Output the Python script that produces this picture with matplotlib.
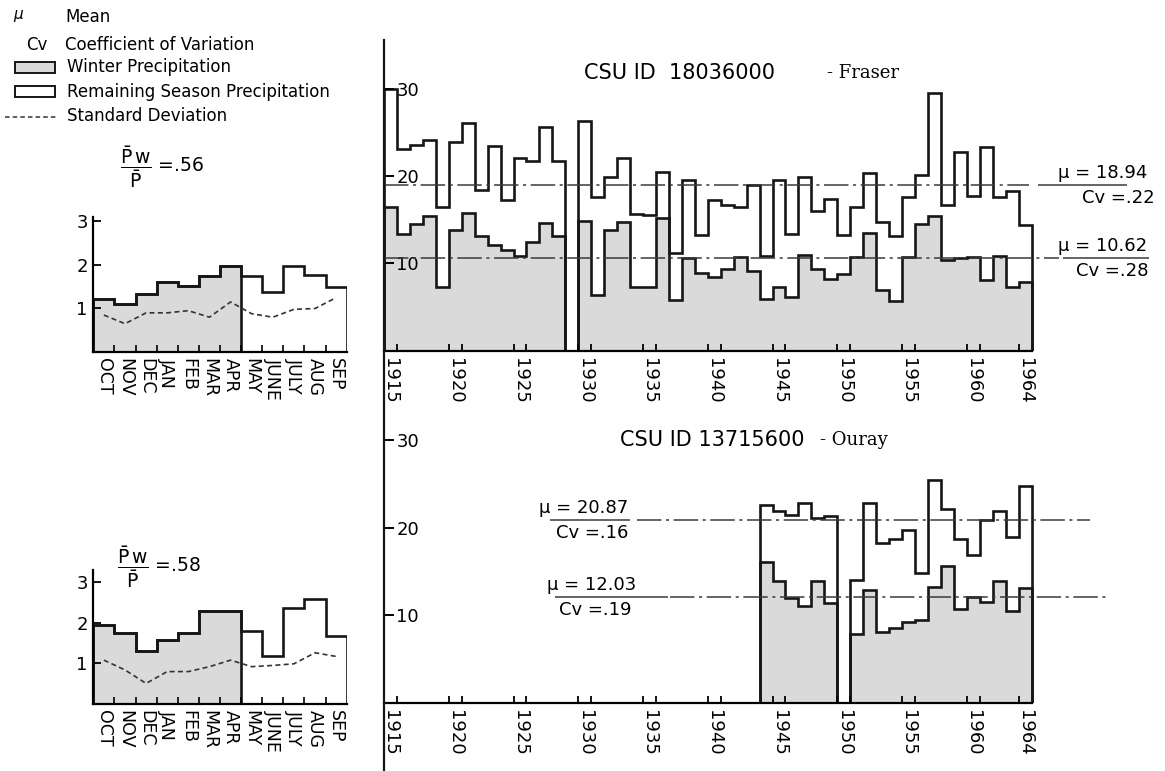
import numpy as np
import matplotlib
matplotlib.use("Agg")
import matplotlib.pyplot as plt
from matplotlib.patches import Rectangle

nan = np.nan

# annual precipitation, inches -- Fraser (CSU ID 18036000), 1929 missing
fraser_years = np.arange(1915, 1965)
fraser_total = [30.0, 23.1, 23.5, 24.1, 16.5, 23.9, 26.1, 18.4, 23.4, 17.3,
                22.1, 21.7, 25.6, 21.7, nan, 26.3, 17.6, 19.9, 22.0, 15.7,
                15.5, 20.5, 11.2, 19.5, 13.2, 17.3, 16.7, 16.4, 19.0, 10.9,
                19.5, 13.4, 19.9, 16.0, 17.4, 13.3, 16.4, 20.3, 14.7, 13.1,
                17.6, 20.1, 29.5, 16.7, 22.7, 17.7, 23.3, 17.6, 18.3, 14.4]
fraser_winter = [16.5, 13.4, 14.5, 15.4, 7.3, 13.8, 15.8, 13.1, 12.1, 11.5,
                 10.8, 12.4, 14.6, 13.1, nan, 14.9, 6.4, 13.8, 14.7, 7.3,
                 7.3, 15.2, 5.8, 10.6, 8.9, 8.5, 9.4, 10.7, 9.1, 5.9,
                 7.3, 6.2, 11.0, 9.4, 8.2, 8.8, 10.7, 13.5, 7.0, 5.7,
                 10.7, 14.5, 15.4, 10.4, 10.6, 10.7, 8.1, 10.9, 7.3, 7.9]
fraser_mu = [18.94, 10.62]
fraser_cv = [.22, .28]

# Ouray (CSU ID 13715600), 1944-1964, 1950 missing
ouray_years = np.arange(1944, 1965)
ouray_total = [22.6, 21.9, 21.4, 22.8, 21.1, 21.3, nan, 14.0, 22.8, 18.2,
               18.7, 19.7, 14.8, 25.4, 22.1, 18.7, 16.9, 20.9, 21.9, 18.9, 24.7]
ouray_winter = [16.1, 13.9, 12.0, 11.0, 13.9, 11.4, nan, 7.8, 12.9, 8.1,
                8.5, 9.2, 9.4, 13.2, 15.6, 10.7, 12.1, 11.5, 13.9, 10.5, 13.1]
ouray_mu = [20.87, 12.03]
ouray_cv = [.16, .19]

# monthly means and standard deviations
months = ['OCT', 'NOV', 'DEC', 'JAN', 'FEB', 'MAR', 'APR',
          'MAY', 'JUNE', 'JULY', 'AUG', 'SEP']
n_winter = 7
fraser_monthly = [1.21, 1.11, 1.33, 1.61, 1.52, 1.74, 1.98, 1.74, 1.39, 1.98, 1.76, 1.49]
fraser_sd = [0.85, 0.65, 0.90, 0.90, 0.95, 0.80, 1.15, 0.88, 0.80, 0.98, 1.00, 1.25]
fraser_ratio = '.56'
ouray_monthly = [1.95, 1.74, 1.30, 1.56, 1.74, 2.29, 2.29, 1.80, 1.17, 2.35, 2.58, 1.67]
ouray_sd = [1.08, 0.84, 0.51, 0.80, 0.80, 0.92, 1.08, 0.92, 0.95, 0.99, 1.26, 1.17]
ouray_ratio = '.58'

tick_years = [1915, 1920, 1925, 1930, 1935, 1940, 1945, 1950, 1955, 1960, 1964]

W, H = 1165, 771
INK = '#161616'
GRAY = '#dadada'
PX_YEAR = 12.95
PX_UNIT = 8.75

plt.rcParams['font.family'] = 'DejaVu Sans'
plt.rcParams['mathtext.fontset'] = 'dejavusans'

fig = plt.figure(figsize=(W / 100, H / 100), dpi=100)


def rect(x0, y0, x1, y1):
    return [x0 / W, 1 - y1 / H, (x1 - x0) / W, (y1 - y0) / H]


def runs(years, vals):
    # split a series into runs of consecutive years with data
    vals = np.asarray(vals, float)
    out, start = [], None
    for i in range(len(vals) + 1):
        good = i < len(vals) and not np.isnan(vals[i])
        if good and start is None:
            start = i
        elif not good and start is not None:
            out.append((years[start:i], vals[start:i]))
            start = None
    return out


def annual_panel(box, years, total, winter, mus, cvs, notes):
    ax = fig.add_axes(rect(*box))
    ax.set_xlim(1914.5, 1914.5 + (box[2] - box[0]) / PX_YEAR)
    ax.set_ylim(0, (box[3] - box[1]) / PX_UNIT)
    for yrs, v in runs(years, winter):
        edges = np.append(yrs - 0.5, yrs[-1] + 0.5)
        ax.stairs(v, edges, fill=True, color=GRAY, lw=0)
        ax.stairs(v, edges, baseline=0, color=INK, lw=1.9)
    for yrs, v in runs(years, total):
        edges = np.append(yrs - 0.5, yrs[-1] + 0.5)
        ax.stairs(v, edges, baseline=0, color=INK, lw=1.9)

    for mu, cv, (d0, d1), (b0, b1), xm, xc in zip(mus, cvs, *zip(*notes)):
        ax.hlines(mu, d0, d1, color='#3a3a3a', lw=1.1, ls=(0, (16, 3, 2, 3)))
        ax.hlines(mu, b0, b1, color='#3a3a3a', lw=1.1)
        ax.text(xm, mu + 0.35, f'μ = {mu:.2f}', ha='center', va='bottom', fontsize=13)
        ax.text(xc, mu - 0.45, 'Cv =' + f'{cv:.2f}'.lstrip('0'),
                ha='center', va='top', fontsize=13)

    for s in ['left', 'top', 'right']:
        ax.spines[s].set_visible(False)
    ax.spines['bottom'].set_bounds(1914.5, 1964.5)
    ax.spines['bottom'].set_linewidth(1.6)
    ax.patch.set_alpha(0)

    ax.set_xticks(tick_years)
    ax.set_xticklabels([str(y) for y in tick_years], rotation=270, fontsize=13)
    ax.tick_params(axis='x', which='major', length=0, pad=5)
    minor = sorted({t + d for t in tick_years for d in (-0.5, 0.5)} - {1914.5, 1964.5})
    ax.set_xticks(minor, minor=True)
    ax.tick_params(axis='x', which='minor', direction='in', length=5, width=1.3)

    ax.set_yticks([10, 20, 30])
    ax.tick_params(axis='y', direction='in', length=7, width=1.4, pad=-9, labelsize=13)
    for t in ax.get_yticklabels():
        t.set_ha('left')
    return ax


def monthly_panel(box, px_unit, values, sd):
    ax = fig.add_axes(rect(*box))
    ax.set_xlim(-0.5, 11.5)
    ax.set_ylim(0, (box[3] - box[1]) / px_unit)
    x = np.arange(len(months))
    edges = np.arange(len(months) + 1) - 0.5
    ax.stairs(values[:n_winter], edges[:n_winter + 1], fill=True, color=GRAY, lw=0)
    ax.stairs(values[:n_winter], edges[:n_winter + 1], baseline=0, color=INK, lw=1.9)
    ax.stairs(values, edges, baseline=0, color=INK, lw=1.9)
    ax.plot(x, sd, color='#333333', lw=1.2, ls=(0, (3, 2)))

    for s in ['top', 'right']:
        ax.spines[s].set_visible(False)
    for s in ['left', 'bottom']:
        ax.spines[s].set_linewidth(1.6)
    ax.patch.set_alpha(0)
    ax.set_xticks(x)
    ax.set_xticklabels(months, rotation=270, fontsize=12.5)
    ax.tick_params(axis='x', which='major', length=0, pad=4)
    ax.set_xticks(edges[1:-1], minor=True)
    ax.tick_params(axis='x', which='minor', direction='in', length=5, width=1.2)
    ax.set_yticks([1, 2, 3])
    ax.tick_params(axis='y', direction='in', length=6, width=1.3, labelsize=13, pad=4)
    return ax


annual_panel((384, 40, 1160, 351), fraser_years, fraser_total, fraser_winter,
             fraser_mu, fraser_cv,
             [((1914.5, 1964.3), (1965.0, 1971.9), 1970.0, 1971.2),
              ((1914.5, 1966.6), (1966.9, 1973.6), 1970.0, 1970.7)])
annual_panel((384, 420, 1160, 702.6), ouray_years, ouray_total, ouray_winter,
             ouray_mu, ouray_cv,
             [((1934.0, 1969.0), (1927.3, 1933.5), 1929.9, 1930.6),
              ((1936.6, 1970.6), (1927.7, 1936.4), 1930.5, 1930.8)])

monthly_panel((93.3, 217, 346.7, 352), 43.5, fraser_monthly, fraser_sd)
monthly_panel((93.3, 570, 346.7, 704.3), 40.9, ouray_monthly, ouray_sd)

# overlay in pixel coordinates for legend, titles and the shared axis line
ov = fig.add_axes([0, 0, 1, 1])
ov.set_xlim(0, W)
ov.set_ylim(H, 0)
ov.axis('off')

ov.plot([384, 384], [40, H], color=INK, lw=1.6)

ov.text(584, 73, 'CSU ID  18036000', fontsize=15, va='center')
ov.text(827, 73, '- Fraser', family='DejaVu Serif', fontsize=13, va='center')
ov.text(620, 440, 'CSU ID 13715600', fontsize=15, va='center')
ov.text(820, 440, '- Ouray', family='DejaVu Serif', fontsize=13, va='center')

ov.text(13, 14, 'μ', fontsize=11, va='center', style='italic')
ov.text(65, 17, 'Mean', fontsize=12, va='center')
ov.text(26, 45, 'Cv', fontsize=12, va='center')
ov.text(65, 45, 'Coefficient of Variation', fontsize=12, va='center')
ov.add_patch(Rectangle((15, 62), 40, 11, facecolor=GRAY, edgecolor=INK, lw=1.4))
ov.text(67, 67, 'Winter Precipitation', fontsize=12, va='center')
ov.add_patch(Rectangle((15, 86), 40, 11, facecolor='white', edgecolor=INK, lw=1.4))
ov.text(67, 92, 'Remaining Season Precipitation', fontsize=12, va='center')
ov.plot([5, 58], [117, 117], color='#333333', lw=1.1, ls=(0, (3, 2)))
ov.text(67, 116, 'Standard Deviation', fontsize=12, va='center')

frac = r'$\dfrac{\bar{\mathrm{P}}\,\mathrm{w}}{\bar{\mathrm{P}}}$'
ov.text(120, 167, frac + ' =' + fraser_ratio, fontsize=13.5, va='center')
ov.text(117, 567, frac + ' =' + ouray_ratio, fontsize=13.5, va='center')

fig.savefig('out.png', dpi=100)
